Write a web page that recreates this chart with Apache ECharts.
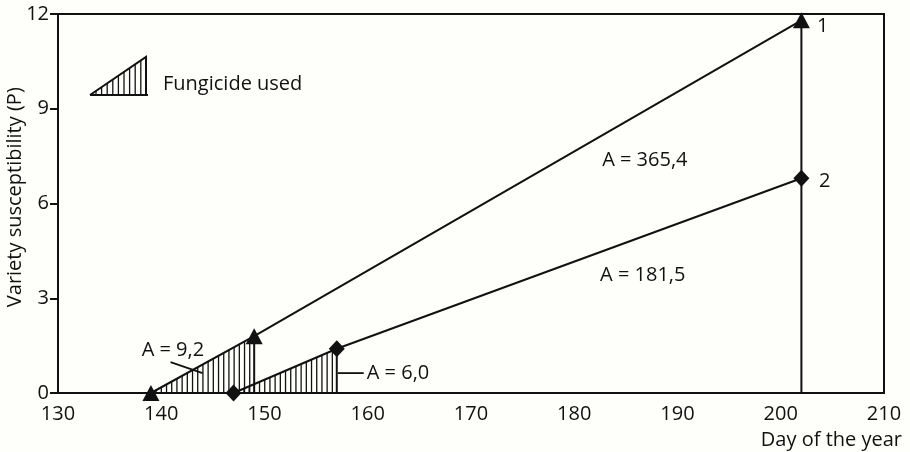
<!DOCTYPE html>
<html>
<head>
<meta charset="utf-8">
<script src="https://cdn.jsdelivr.net/npm/echarts@6/dist/echarts.min.js"></script>
<style>
  html, body { margin: 0; padding: 0; background: #fefefb; }
  #chart { width: 910px; height: 452px; }
</style>
</head>
<body>
<div id="chart"></div>
<script>
// Axis ticks
const xTicks = [130, 140, 150, 160, 170, 180, 190, 200, 210];
const yTicks = [0, 3, 6, 9, 12];

// Variety 1 (triangles): day, susceptibility
const variety1Days = [139, 149, 202];
const variety1P = [0, 1.8, 11.8];
// Variety 2 (diamonds)
const variety2Days = [147, 157, 202];
const variety2P = [0, 1.4, 6.8];

// Area labels
const areaLabels = ['A = 9,2', 'A = 6,0', 'A = 365,4', 'A = 181,5'];
const curveNames = ['1', '2'];

const FONT = '"Open Sans", "Noto Sans", sans-serif';
const INK = '#111';

const chart = echarts.init(document.getElementById('chart'), null, { renderer: 'canvas' });

const v1 = variety1Days.map((d, i) => [d, variety1P[i]]);
const v2 = variety2Days.map((d, i) => [d, variety2P[i]]);

// Fungicide periods: from first point to second point of each variety
const hatchRegions = [
  [variety1Days[0], variety1Days[1], variety1P[1]],
  [variety2Days[0], variety2Days[1], variety2P[1]]
];

function hatchItem(params, api) {
  const p0 = api.coord([api.value(0), 0]);
  const p1 = api.coord([api.value(1), api.value(2)]);
  const children = [];
  const step = 5.2;
  for (let x = p0[0] + step; x < p1[0] - 1; x += step) {
    const y = p0[1] + (p1[1] - p0[1]) * (x - p0[0]) / (p1[0] - p0[0]);
    children.push({ type: 'line', shape: { x1: x, y1: p0[1], x2: x, y2: y },
      style: { stroke: INK, lineWidth: 1.3 } });
  }
  children.push({ type: 'line', shape: { x1: p1[0], y1: p0[1], x2: p1[0], y2: p1[1] },
    style: { stroke: INK, lineWidth: 2 } });
  return { type: 'group', children };
}

const option = {
  backgroundColor: '#fefefb',
  animation: false,
  grid: { left: 58, right: 26, top: 14, bottom: 59, show: true,
          outerBoundsMode: 'none', containLabel: false,
          borderColor: INK, borderWidth: 2, backgroundColor: 'transparent' },
  xAxis: {
    type: 'value', min: xTicks[0], max: xTicks[xTicks.length - 1], interval: 10,
    axisLine: { show: true, lineStyle: { color: INK, width: 2 } },
    axisTick: { show: false },
    splitLine: { show: false },
    axisLabel: { color: INK, fontSize: 20, fontFamily: FONT, margin: 11 }
  },
  yAxis: {
    type: 'value', min: yTicks[0], max: yTicks[yTicks.length - 1], interval: 3,
    axisLine: { show: true, lineStyle: { color: INK, width: 2 } },
    axisTick: { show: true, length: 8, lineStyle: { color: INK, width: 2 } },
    splitLine: { show: false },
    axisLabel: { color: INK, fontSize: 20, fontFamily: FONT, margin: 9 }
  },
  series: [
    {
      type: 'custom', renderItem: hatchItem, data: hatchRegions, z: 1,
      encode: { x: [0, 1], y: 2 }
    },
    {
      type: 'line',
      data: v1.map(p => ({ value: p })).concat([{ value: [variety1Days[2], 0], symbol: 'none' }]),
      symbol: 'triangle', symbolSize: [17, 16], symbolKeepAspect: true,
      lineStyle: { color: INK, width: 2 }, itemStyle: { color: INK },
      z: 3
    },
    {
      type: 'line',
      data: v2,
      symbol: 'diamond', symbolSize: [16, 17],
      lineStyle: { color: INK, width: 2 }, itemStyle: { color: INK },
      z: 3
    }
  ]
};
chart.setOption(option);

// Annotations placed in data coordinates
function px(pt) { return chart.convertToPixel({ gridIndex: 0 }, pt); }
const TXT_FONT = '20px ' + FONT;
const txt = (pos, text) => ({
  type: 'text', x: pos[0], y: pos[1],
  style: { text, fill: INK, font: TXT_FONT, textVerticalAlign: 'middle' }
});

const a92 = px([138.1, 1.36]);
const a92from = px([140.9, 0.98]);
const a92to = px([144.0, 0.63]);
const a60 = px([159.9, 0.63]);
const a60from = px([157.1, 0.63]);
const a365 = px([182.7, 7.37]);
const a181 = px([182.5, 3.73]);
const n1 = px([203.5, 11.6]);
const n2 = px([203.7, 6.7]);
const yMid = px([130, 6.2]);

chart.setOption({
  graphic: [
    txt(a92, areaLabels[0]),
    { type: 'line', shape: { x1: a92from[0], y1: a92from[1], x2: a92to[0], y2: a92to[1] },
      style: { stroke: INK, lineWidth: 1.8 } },
    txt(a60, areaLabels[1]),
    { type: 'line', shape: { x1: a60from[0], y1: a60from[1], x2: a60[0] - 3, y2: a60[1] },
      style: { stroke: INK, lineWidth: 1.8 } },
    txt(a365, areaLabels[2]),
    txt(a181, areaLabels[3]),
    txt(n1, curveNames[0]),
    txt(n2, curveNames[1]),
    // Legend glyph
    {
      type: 'group', x: 90, y: 57,
      children: (function () {
        const c = [];
        const w = 56, h = 38;
        for (let x = 6; x < w; x += 5.6) {
          c.push({ type: 'line', shape: { x1: x, y1: h, x2: x, y2: h - h * x / w },
            style: { stroke: INK, lineWidth: 1.3 } });
        }
        c.push({ type: 'polyline', shape: { points: [[0, h], [w, 0], [w, h]] },
          style: { stroke: INK, lineWidth: 2, fill: null } });
        c.push({ type: 'line', shape: { x1: 0, y1: h, x2: w + 2, y2: h },
          style: { stroke: INK, lineWidth: 2 } });
        return c;
      })()
    },
    txt([163, 84], 'Fungicide used'),
    {
      type: 'text', x: 902, y: 440,
      style: { text: 'Day of the year', fill: INK, font: TXT_FONT,
               textAlign: 'right', textVerticalAlign: 'middle' }
    },
    // Y axis title
    {
      type: 'text', x: 15, y: yMid[1], rotation: Math.PI / 2,
      style: { text: 'Variety susceptibility (P)', fill: INK, font: TXT_FONT,
               textAlign: 'center', textVerticalAlign: 'middle' }
    }
  ]
});
</script>
</body>
</html>
